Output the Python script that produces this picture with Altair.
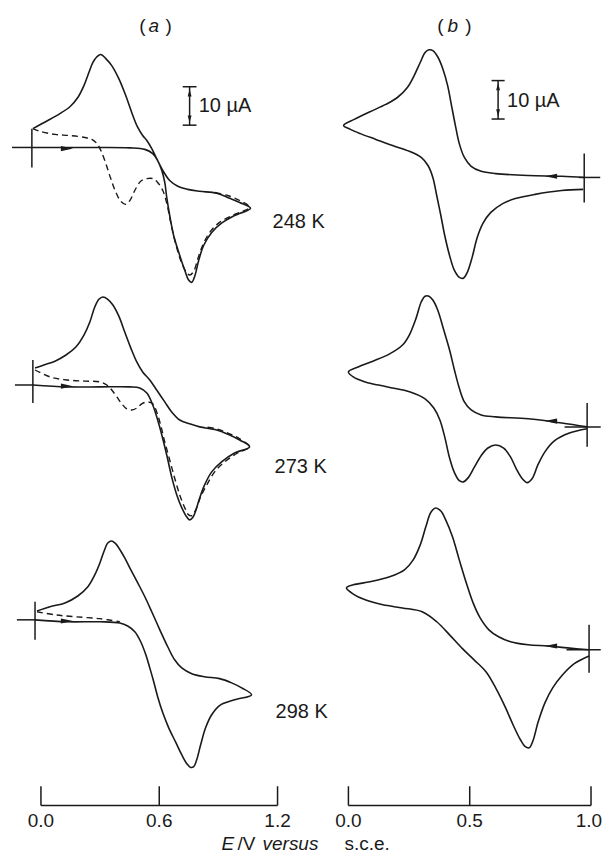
import altair as alt
import pandas as pd

# ------------------------------------------------------------------
# Data: potential E (V vs s.c.e.) and current I (µA)
# ------------------------------------------------------------------
# (a) 248 K
A248_E = [-0.046, 0.137, 0.299, 0.451, 0.527, 0.567, 0.592, 0.613, 0.628, 0.638, 0.653, 0.673, 0.704, 0.729, 0.749, 0.765, 0.780, 0.800, 0.825, 0.866, 0.916, 0.982, 1.063,
          1.008, 0.957, 0.891, 0.805, 0.744, 0.694, 0.653, 0.618, 0.587, 0.562, 0.537, 0.516, 0.491, 0.466, 0.430, 0.395, 0.359, 0.329, 0.304, 0.284, 0.263, 0.243, 0.218, 0.187, 0.147, 0.096, 0.035, -0.041]
A248_I = [0, 0, 0, -0.1, -0.5, -1.6, -3.4, -6.0, -9.1, -13.0, -17.7, -22.9, -28.1, -31.9, -34.5, -35.1, -33.5, -29.4, -25.5, -22.1, -19.7, -17.7, -15.8,
          -14.3, -13.2, -11.9, -11.4, -10.9, -10.1, -8.6, -6.0, -2.9, -0.3, 1.8, 3.1, 5.2, 8.3, 13.5, 17.9, 21.3, 23.1, 24.2, 23.6, 22.1, 19.5, 16.1, 13.0, 10.6, 8.8, 7.0, 4.9]
A248_DASH_E = [-0.041, -0.005, 0.071, 0.147, 0.223, 0.258, 0.284, 0.304, 0.329, 0.354, 0.380, 0.405, 0.430, 0.451, 0.476, 0.506, 0.537, 0.567, 0.592, 0.618,
               0.638, 0.658, 0.684, 0.709, 0.734, 0.754, 0.775, 0.795, 0.820, 0.856, 0.906, 0.982, 1.058, 1.008, 0.947, 0.881]
A248_DASH_I = [4.9, 4.2, 3.4, 3.1, 2.6, 2.1, 1.0, -0.8, -4.2, -8.1, -11.7, -14.0, -14.8, -13.8, -11.2, -8.8, -8.1, -8.1, -9.1, -11.2,
               -14.5, -19.5, -25.2, -29.4, -32.2, -33.2, -32.2, -29.1, -25.5, -22.1, -19.5, -17.4, -15.6, -13.8, -12.5, -11.7]
# (a) 273 K
A273_E = [-0.041, 0.132, 0.299, 0.451, 0.501, 0.537, 0.567, 0.592, 0.613, 0.638, 0.663, 0.689, 0.714, 0.739, 0.754, 0.770, 0.785, 0.805, 0.830, 0.866, 0.916, 0.982, 1.058,
          1.008, 0.957, 0.891, 0.805, 0.754, 0.704, 0.663, 0.628, 0.587, 0.552, 0.516, 0.486, 0.456, 0.425, 0.395, 0.365, 0.339, 0.314, 0.294, 0.273, 0.248, 0.218, 0.177, 0.127, 0.071, 0.015, -0.030]
A273_I = [0, -0.5, -0.5, -0.5, -0.8, -2.1, -5.2, -9.1, -13.0, -18.2, -23.9, -28.6, -31.9, -34.3, -35.1, -34.5, -32.7, -29.4, -26.0, -22.6, -20.0, -17.7, -16.1,
          -14.3, -13.0, -11.7, -10.9, -10.1, -9.1, -7.0, -4.4, -1.3, 1.3, 3.4, 6.0, 9.6, 13.8, 17.9, 20.8, 22.3, 22.9, 22.3, 20.3, 16.4, 13.0, 9.9, 7.8, 6.2, 5.2, 4.4]
A273_DASH_E = [-0.030, 0.046, 0.132, 0.223, 0.299, 0.334, 0.359, 0.385, 0.410, 0.435, 0.461, 0.486, 0.511, 0.542, 0.567, 0.587, 0.608, 0.628, 0.653, 0.678,
               0.704, 0.729, 0.749, 0.765, 0.785, 0.810, 0.841, 0.881, 0.932, 0.997, 1.058, 1.008, 0.957, 0.891, 0.830]
A273_DASH_I = [3.9, 2.1, 1.3, 1.0, 0.8, 0, -1.3, -3.1, -4.9, -6.2, -6.5, -6.0, -4.9, -4.4, -4.9, -7.0, -10.6, -14.8, -19.5, -24.2,
               -28.6, -31.9, -33.8, -34.0, -32.5, -29.1, -26.0, -22.6, -20.0, -17.7, -16.1, -14.0, -12.7, -11.4, -10.9]
# (a) 298 K
A298_E = [-0.030, 0.132, 0.299, 0.400, 0.440, 0.476, 0.506, 0.532, 0.552, 0.572, 0.592, 0.618, 0.648, 0.684, 0.714, 0.739, 0.759, 0.775, 0.790, 0.810, 0.835, 0.866, 0.906, 0.982, 1.068,
          1.018, 0.967, 0.906, 0.830, 0.765, 0.714, 0.678, 0.643, 0.603, 0.562, 0.527, 0.491, 0.456, 0.425, 0.395, 0.375, 0.359, 0.339, 0.319, 0.299, 0.273, 0.238, 0.187, 0.122, 0.046, -0.020]
A298_I = [0, -0.5, -0.5, -0.8, -1.6, -3.1, -5.7, -9.1, -12.5, -16.1, -20.0, -24.2, -28.1, -31.9, -35.1, -37.4, -38.4, -38.2, -36.4, -32.5, -28.1, -24.7, -22.3, -20.8, -19.5,
          -17.7, -16.4, -15.3, -14.8, -14.0, -12.5, -10.4, -7.0, -2.6, 2.1, 6.0, 9.6, 13.0, 16.1, 18.7, 20.0, 20.5, 20.0, 17.7, 14.8, 11.7, 8.6, 6.2, 4.4, 3.4, 2.3]
A298_DASH_E = [-0.020, 0.071, 0.172, 0.299, 0.400]
A298_DASH_I = [2.1, 1.3, 0.8, 0.3, -0.5]

# (b) 248 K
B248_E = [0.972, 0.879, 0.741, 0.607, 0.547, 0.506, 0.478, 0.457, 0.441, 0.425, 0.409, 0.389, 0.368, 0.348, 0.332, 0.316, 0.296, 0.271, 0.243, 0.202, 0.154, 0.089, 0.024, -0.020,
          0.008, 0.049, 0.113, 0.182, 0.251, 0.300, 0.328, 0.348, 0.364, 0.381, 0.397, 0.417, 0.437, 0.457, 0.474, 0.490, 0.510, 0.530, 0.555, 0.587, 0.636, 0.688, 0.769, 0.879, 0.968]
B248_I = [0, 0.3, 0.5, 1.0, 1.6, 2.9, 5.2, 8.8, 13.5, 18.7, 23.9, 28.3, 31.4, 33.0, 33.2, 32.5, 29.9, 26.5, 23.4, 20.8, 19.0, 17.1, 15.1, 13.5,
          12.5, 11.4, 9.9, 8.3, 6.8, 5.2, 3.1, 0, -4.7, -9.9, -15.1, -20.3, -24.2, -26.0, -26.2, -24.7, -20.8, -15.8, -11.9, -9.1, -6.8, -5.5, -4.4, -3.4, -3.1]
# (b) 273 K
B273_E = [0.984, 0.879, 0.741, 0.607, 0.547, 0.506, 0.478, 0.457, 0.437, 0.417, 0.393, 0.368, 0.348, 0.332, 0.316, 0.300, 0.279, 0.251, 0.223, 0.170, 0.101, 0.040, 0.0,
          0.020, 0.069, 0.162, 0.255, 0.316, 0.352, 0.377, 0.397, 0.417, 0.437, 0.457, 0.474, 0.494, 0.518, 0.547, 0.575, 0.607, 0.640, 0.668, 0.692, 0.717, 0.737, 0.757, 0.781, 0.810, 0.850, 0.911, 0.984]
B273_I = [0, 1.0, 2.1, 2.6, 3.1, 4.4, 6.5, 10.1, 14.8, 20.0, 25.2, 30.4, 33.0, 34.0, 34.0, 32.5, 28.3, 23.9, 21.3, 19.0, 17.1, 15.6, 14.3,
          13.0, 11.7, 10.4, 9.1, 7.3, 4.9, 1.8, -2.6, -8.1, -11.9, -14.0, -14.3, -13.2, -10.6, -7.5, -5.5, -4.7, -5.5, -7.8, -10.9, -13.5, -14.5, -13.5, -9.9, -6.5, -3.6, -1.6, -0.5]
# (b) 298 K
B298_E = [0.992, 0.903, 0.822, 0.741, 0.668, 0.619, 0.579, 0.543, 0.514, 0.486, 0.457, 0.429, 0.401, 0.381, 0.360, 0.340, 0.320, 0.296, 0.267, 0.231, 0.170, 0.089, 0.020, -0.008,
          0.020, 0.069, 0.142, 0.223, 0.304, 0.364, 0.417, 0.470, 0.518, 0.567, 0.607, 0.648, 0.680, 0.709, 0.729, 0.745, 0.761, 0.781, 0.810, 0.842, 0.883, 0.931, 0.992]
B298_I = [0, 0.5, 1.0, 1.3, 2.1, 3.4, 5.2, 8.3, 12.2, 17.4, 23.4, 29.4, 33.8, 36.1, 36.9, 35.8, 32.2, 27.3, 23.4, 20.8, 19.0, 17.7, 16.9, 16.1,
          14.5, 13.0, 11.7, 10.9, 9.9, 7.3, 3.9, 0.3, -2.6, -5.7, -9.9, -15.1, -19.7, -23.4, -25.2, -25.5, -23.6, -19.0, -13.8, -9.9, -6.5, -3.6, -1.6]

# Start-of-scan markers: potential, current at top / bottom of the bar
START_E = {"a248": -0.046, "a273": -0.041, "a298": -0.030, "b248": 0.972, "b273": 0.984, "b298": 0.992}
START_TOP = {"a248": 4.9, "a273": 6.5, "a298": 4.7, "b248": 6.2, "b273": 6.2, "b298": 6.5}
START_BOT = {"a248": -5.2, "a273": -4.7, "a298": -5.2, "b248": -6.5, "b273": -5.2, "b298": -6.0}
ZERO_LINE_A = {"a248": -0.147, "a273": -0.132, "a298": -0.122}          # zero-current line to the left
ZERO_LINE_B = {"b248": (0.95, 1.038), "b273": (0.891, 1.040), "b298": (0.899, 1.040)}

TEMPS = ["248 K", "273 K", "298 K"]
TICKS_A = [0.0, 0.6, 1.2]
TICKS_B = [0.0, 0.5, 1.0]
TICK_LABELS_A = ["0.0", "0.6", "1.2"]
TICK_LABELS_B = ["0.0", "0.5", "1.0"]
SCALE_BAR_UA = 10

# ------------------------------------------------------------------
# Layout / style
# ------------------------------------------------------------------
INK = "#1a1a1a"
FONT = "Liberation Sans"
PX_PER_UA = 3.85
H = 840
W_A, W_B = 292, 303
XDOM_A = [-0.1671, 1.3114]
XDOM_B = [-0.2016, 1.0453]
YDOM = [-H / PX_PER_UA, 0]
OFFSET = {"a248": -36.1, "a273": -97.9, "a298": -159.0,
          "b248": -43.9, "b273": -108.8, "b298": -166.8}
Y_AXIS, Y_TICK, Y_TICKLAB, Y_TITLE = -207.3, -202.3, -211.4, -217.4
Y_HEAD = -4.4
TEMP_POS = [(1.175, -55.6), (1.185, -119.2), (1.190, -183.1)]
LABEL_SHIFT_B = [0.0, 0.0, -0.009]      # keeps the last label inside the page

ARROW_R = "M1,0L-1,-0.42L-1,0.42Z"
ARROW_L = "M-1,0L1,-0.42L1,0.42Z"
ARROW_U = "M0,-1L-0.55,1L0.55,1Z"
ARROW_D = "M0,1L-0.55,-1L0.55,-1Z"


def xs(dom):
    return alt.Scale(domain=dom, nice=False, zero=False)


YS = alt.Scale(domain=YDOM, nice=False, zero=False)


def curve_rows(name, E, I, dashed):
    return [{"trace": name + ("d" if dashed else "s"), "k": k, "E": e, "Y": i + OFFSET[name], "dash": dashed}
            for k, (e, i) in enumerate(zip(E, I))]


def lines(df, dom):
    base = alt.Chart(df).encode(
        x=alt.X("E:Q", scale=xs(dom), axis=None),
        y=alt.Y("Y:Q", scale=YS, axis=None),
        detail="trace:N", order="k:Q")
    solid = base.transform_filter("!datum.dash").mark_line(
        color=INK, strokeWidth=1.6, interpolate="catmull-rom")
    dashed = base.transform_filter("datum.dash").mark_line(
        color=INK, strokeWidth=1.4, strokeDash=[6, 4], interpolate="catmull-rom")
    return [solid, dashed]


def segs(rows, dom, width=1.5):
    return alt.Chart(pd.DataFrame(rows)).mark_rule(color=INK, strokeWidth=width).encode(
        x=alt.X("E:Q", scale=xs(dom), axis=None), x2="E2:Q",
        y=alt.Y("Y:Q", scale=YS, axis=None), y2="Y2:Q")


def arrows(rows, dom):
    return alt.Chart(pd.DataFrame(rows)).mark_point(filled=True, color=INK, opacity=1, strokeWidth=0).encode(
        x=alt.X("E:Q", scale=xs(dom), axis=None),
        y=alt.Y("Y:Q", scale=YS, axis=None),
        size=alt.Size("s:Q", scale=None, legend=None),
        shape=alt.Shape("d:N", scale=alt.Scale(domain=["r", "l", "u", "d"],
                                               range=[ARROW_R, ARROW_L, ARROW_U, ARROW_D]), legend=None))


def texts(rows, dom, style="normal", align="left", size=19):
    return alt.Chart(pd.DataFrame(rows)).mark_text(
        align=align, baseline="middle", font=FONT, fontSize=size, fontStyle=style, color=INK).encode(
        x=alt.X("E:Q", scale=xs(dom), axis=None),
        y=alt.Y("Y:Q", scale=YS, axis=None),
        text="t:N")


# ---------------- panel (a) ----------------
rows_a = (curve_rows("a248", A248_E, A248_I, False) + curve_rows("a248", A248_DASH_E, A248_DASH_I, True)
          + curve_rows("a273", A273_E, A273_I, False) + curve_rows("a273", A273_DASH_E, A273_DASH_I, True)
          + curve_rows("a298", A298_E, A298_I, False) + curve_rows("a298", A298_DASH_E, A298_DASH_I, True))
df_a = pd.DataFrame(rows_a)

seg_a = []
for n in ["a248", "a273", "a298"]:
    o = OFFSET[n]
    seg_a.append({"E": START_E[n], "E2": START_E[n], "Y": START_TOP[n] + o, "Y2": START_BOT[n] + o})
    seg_a.append({"E": ZERO_LINE_A[n], "E2": START_E[n], "Y": o, "Y2": o})
seg_a.append({"E": TICKS_A[0], "E2": TICKS_A[-1], "Y": Y_AXIS, "Y2": Y_AXIS})
for t in TICKS_A:
    seg_a.append({"E": t, "E2": t, "Y": Y_AXIS, "Y2": Y_TICK})
# scale bar (a)
sb_a_E, sb_a_top = 0.754, -20.3
seg_a.append({"E": sb_a_E, "E2": sb_a_E, "Y": sb_a_top, "Y2": sb_a_top - SCALE_BAR_UA})
seg_a.append({"E": sb_a_E - 0.035, "E2": sb_a_E + 0.035, "Y": sb_a_top, "Y2": sb_a_top})
seg_a.append({"E": sb_a_E - 0.035, "E2": sb_a_E + 0.035, "Y": sb_a_top - SCALE_BAR_UA, "Y2": sb_a_top - SCALE_BAR_UA})

arr_a = [{"E": 0.132, "Y": OFFSET[n] - 0.3, "d": "r", "s": 150} for n in ["a248", "a273", "a298"]]
arr_a += [{"E": sb_a_E, "Y": sb_a_top - 1.6, "d": "u", "s": 50},
          {"E": sb_a_E, "Y": sb_a_top - SCALE_BAR_UA + 1.6, "d": "d", "s": 50}]

txt_a = [{"E": 0.800, "Y": -25.2, "t": f"{SCALE_BAR_UA} µA"}]
txt_a += [{"E": p[0], "Y": p[1], "t": t} for p, t in zip(TEMP_POS, TEMPS)]
txt_a_center = [{"E": e, "Y": Y_TICKLAB, "t": s} for e, s in zip(TICKS_A, TICK_LABELS_A)]
txt_a_center += [{"E": 0.514, "Y": Y_HEAD, "t": "("}, {"E": 0.648, "Y": Y_HEAD, "t": ")"}]
ital_a_center = [{"E": 0.572, "Y": Y_HEAD, "t": "a"}]
ital_a_left = [{"E": 0.916, "Y": Y_TITLE, "t": "E"}, {"E": 1.124, "Y": Y_TITLE, "t": "versus"}]
norm_a_left = [{"E": 0.997, "Y": Y_TITLE, "t": "/V"}]

panel_a = alt.layer(
    *lines(df_a, XDOM_A),
    segs(seg_a, XDOM_A),
    arrows(arr_a, XDOM_A),
    texts(txt_a, XDOM_A, size=20),
    texts(txt_a_center, XDOM_A, align="center"),
    texts(ital_a_center, XDOM_A, style="italic", align="center"),
    texts(ital_a_left, XDOM_A, style="italic"),
    texts(norm_a_left, XDOM_A),
).properties(width=W_A, height=H)

# ---------------- panel (b) ----------------
rows_b = (curve_rows("b248", B248_E, B248_I, False) + curve_rows("b273", B273_E, B273_I, False)
          + curve_rows("b298", B298_E, B298_I, False))
df_b = pd.DataFrame(rows_b)

seg_b = []
for n in ["b248", "b273", "b298"]:
    o = OFFSET[n]
    seg_b.append({"E": START_E[n], "E2": START_E[n], "Y": START_TOP[n] + o, "Y2": START_BOT[n] + o})
    seg_b.append({"E": ZERO_LINE_B[n][0], "E2": ZERO_LINE_B[n][1], "Y": o, "Y2": o})
seg_b.append({"E": TICKS_B[0], "E2": TICKS_B[-1], "Y": Y_AXIS, "Y2": Y_AXIS})
for t in TICKS_B:
    seg_b.append({"E": t, "E2": t, "Y": Y_AXIS, "Y2": Y_TICK})
sb_b_E, sb_b_top = 0.617, -18.7
seg_b.append({"E": sb_b_E, "E2": sb_b_E, "Y": sb_b_top, "Y2": sb_b_top - SCALE_BAR_UA})
seg_b.append({"E": sb_b_E - 0.027, "E2": sb_b_E + 0.027, "Y": sb_b_top, "Y2": sb_b_top})
seg_b.append({"E": sb_b_E - 0.027, "E2": sb_b_E + 0.027, "Y": sb_b_top - SCALE_BAR_UA, "Y2": sb_b_top - SCALE_BAR_UA})

arr_b = [{"E": 0.835, "Y": OFFSET["b248"] + 0.3, "d": "l", "s": 150},
         {"E": 0.835, "Y": OFFSET["b273"] + 1.5, "d": "l", "s": 150},
         {"E": 0.835, "Y": OFFSET["b298"] + 1.0, "d": "l", "s": 150},
         {"E": sb_b_E, "Y": sb_b_top - 1.6, "d": "u", "s": 50},
         {"E": sb_b_E, "Y": sb_b_top - SCALE_BAR_UA + 1.6, "d": "d", "s": 50}]

txt_b = [{"E": 0.654, "Y": -23.9, "t": f"{SCALE_BAR_UA} µA"}]
txt_b_center = [{"E": e + d, "Y": Y_TICKLAB, "t": s} for e, d, s in zip(TICKS_B, LABEL_SHIFT_B, TICK_LABELS_B)]
txt_b_center += [{"E": 0.379, "Y": Y_HEAD, "t": "("}, {"E": 0.495, "Y": Y_HEAD, "t": ")"}]
ital_b_center = [{"E": 0.430, "Y": Y_HEAD, "t": "b"}]
norm_b_left = [{"E": -0.016, "Y": Y_TITLE, "t": "s.c.e."}]

panel_b = alt.layer(
    *lines(df_b, XDOM_B),
    segs(seg_b, XDOM_B),
    arrows(arr_b, XDOM_B),
    texts(txt_b, XDOM_B, size=20),
    texts(txt_b_center, XDOM_B, align="center"),
    texts(ital_b_center, XDOM_B, style="italic", align="center"),
    texts(norm_b_left, XDOM_B),
).properties(width=W_B, height=H)

chart = alt.HConcatChart(hconcat=[panel_a, panel_b], spacing=0, bounds="flush", padding=0) \
    .configure_view(stroke=None).properties(background="white")

chart.save("out.html", embed_options={"renderer": "svg", "actions": False})
